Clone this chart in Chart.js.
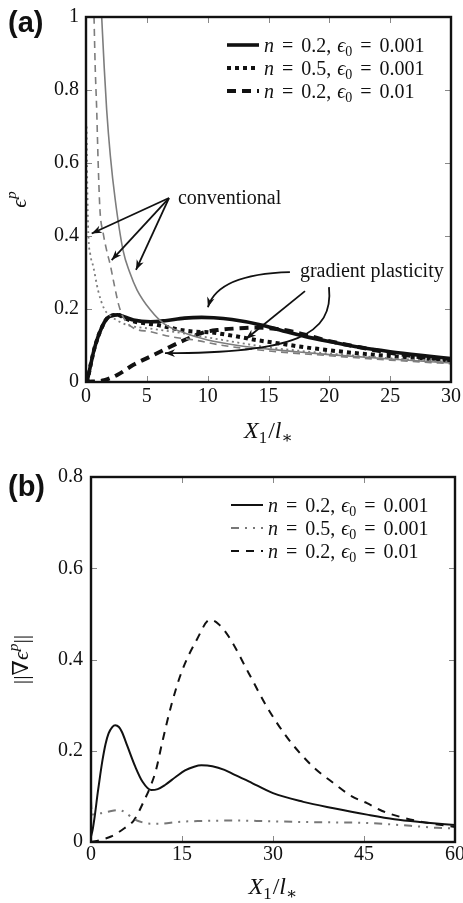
<!DOCTYPE html>
<html>
<head>
<meta charset="utf-8">
<script src="https://cdn.jsdelivr.net/npm/chart.js@4.4.0/dist/chart.umd.min.js"></script>
<style>
  html, body { margin: 0; padding: 0; background: #fff; }
  body { width: 463px; height: 903px; position: relative; overflow: hidden; }
  canvas { position: absolute; left: 0; }
  #chartA { top: 0; }
  #chartB { top: 450px; }
</style>
</head>
<body>
<canvas id="chartA" width="463" height="450"></canvas>
<canvas id="chartB" width="463" height="453"></canvas>
<script>
// ---- panel (a): plastic strain e^p vs X1/l* ----
// gradient plasticity (black)
const aGradSolidX = [0, 0.1, 0.4, 0.66, 1.0, 1.2, 1.5, 1.75, 2.1, 2.6, 3.2, 3.9, 5.3, 6.5, 8.1, 9.5, 10.5, 12, 14.3, 16, 18, 20, 22.5, 25, 27.5, 30]
const aGradSolidY = [0, 0.005, 0.05, 0.088, 0.125, 0.142, 0.163, 0.175, 0.182, 0.184, 0.178, 0.17, 0.165, 0.168, 0.175, 0.177, 0.176, 0.171, 0.157, 0.142, 0.125, 0.111, 0.095, 0.083, 0.073, 0.064]
const aGradDotX = [0, 0.1, 0.4, 0.66, 1.0, 1.2, 1.5, 1.75, 2.1, 2.6, 3.2, 3.9, 5, 5.9, 7, 8.1, 9, 10.2, 12, 14, 16, 18, 20, 22.5, 25, 27.5, 30]
const aGradDotY = [0, 0.005, 0.05, 0.088, 0.125, 0.142, 0.163, 0.175, 0.182, 0.184, 0.175, 0.166, 0.16, 0.156, 0.148, 0.141, 0.138, 0.136, 0.127, 0.115, 0.105, 0.095, 0.087, 0.078, 0.071, 0.065, 0.059]
const aGradDashX = [0, 1.5, 2.6, 3.9, 5.3, 6.4, 8.1, 9.7, 11, 12.5, 14, 15.5, 17, 18.5, 20, 22.5, 25, 27.5, 30]
const aGradDashY = [0, 0.005, 0.02, 0.047, 0.07, 0.088, 0.115, 0.136, 0.143, 0.147, 0.149, 0.146, 0.138, 0.125, 0.112, 0.095, 0.08, 0.068, 0.058]
// conventional (grey)
const aConvSolidX = [1.29, 1.5, 1.7, 2.0, 2.4, 3.05, 3.6, 4.2, 5.3, 6.4, 8.1, 10, 12.5, 15, 17.5, 20, 25, 30]
const aConvSolidY = [1.0, 0.86, 0.745, 0.62, 0.5, 0.36, 0.3, 0.252, 0.197, 0.16, 0.134, 0.115, 0.1, 0.09, 0.082, 0.075, 0.063, 0.052]
const aConvDotX = [0.05, 0.1, 0.19, 0.35, 0.6, 1.0, 1.5, 2.0, 2.6, 3.4, 5.3, 7.5, 10, 12.5, 15, 20, 25, 30]
const aConvDotY = [0.7, 0.55, 0.408, 0.35, 0.316, 0.25, 0.2, 0.182, 0.168, 0.156, 0.146, 0.136, 0.122, 0.108, 0.095, 0.078, 0.065, 0.055]
const aConvDashX = [0.66, 0.75, 0.88, 1.0, 1.15, 1.4, 1.7, 2.0, 2.3, 2.7, 3.1, 3.9, 5.3, 7.0, 8.9, 11.1, 15, 20, 25, 30]
const aConvDashY = [1.0, 0.87, 0.745, 0.6, 0.47, 0.41, 0.36, 0.32, 0.27, 0.21, 0.175, 0.148, 0.138, 0.124, 0.115, 0.101, 0.085, 0.072, 0.06, 0.05]

// ---- panel (b): gradient norm vs X1/l* ----
const bSolidX = [0, 0.26, 0.6, 1.1, 1.5, 1.9, 2.4, 2.9, 3.5, 4.0, 4.6, 5.1, 6.0, 7.3, 8.5, 9.9, 11, 12.2, 14, 15.5, 17, 18.2, 20, 22, 23.7, 26, 30, 35, 40, 45.5, 50, 55, 60]
const bSolidY = [0.012, 0.026, 0.055, 0.107, 0.145, 0.18, 0.215, 0.238, 0.252, 0.256, 0.252, 0.241, 0.21, 0.165, 0.132, 0.114, 0.116, 0.125, 0.143, 0.157, 0.165, 0.168, 0.166, 0.158, 0.147, 0.133, 0.107, 0.088, 0.074, 0.06, 0.05, 0.043, 0.037]
const bDashDotX = [0, 0.15, 1.6, 3, 4.5, 5.5, 7.1, 8.5, 9.9, 11.5, 14.3, 18, 23, 28, 34, 40, 45, 50, 54, 57, 60]
const bDashDotY = [0.09, 0.06, 0.063, 0.067, 0.07, 0.066, 0.05, 0.043, 0.04, 0.04, 0.044, 0.046, 0.047, 0.046, 0.044, 0.043, 0.042, 0.038, 0.034, 0.031, 0.03]
const bDashX = [0, 1.4, 3.3, 5.5, 7.1, 8.8, 9.9, 10.7, 11.7, 13.3, 15, 17.5, 19.6, 21, 22.9, 26, 29, 32, 34.5, 37, 40, 43, 45.5, 48, 51, 55, 60]
const bDashY = [0, 0.004, 0.012, 0.03, 0.048, 0.092, 0.125, 0.157, 0.216, 0.303, 0.375, 0.445, 0.487, 0.478, 0.446, 0.37, 0.296, 0.235, 0.194, 0.16, 0.129, 0.1, 0.085, 0.068, 0.055, 0.043, 0.033]

// ticks
const aXTicks = [0, 5, 10, 15, 20, 25, 30]
const aYTicks = [0, 0.2, 0.4, 0.6, 0.8, 1]
const bXTicks = [0, 15, 30, 45, 60]
const bYTicks = [0, 0.2, 0.4, 0.6, 0.8]

// legend entries
const nValues = ['0.2', '0.5', '0.2']
const eps0Values = ['0.001', '0.001', '0.01']

// annotation anchors (data units of panel a)
const convText = { label: 'conventional', x: 7.56, y: 0.501 }
const convArrowStart = [6.82, 0.504]
const convArrowTips = [[0.47, 0.407], [2.11, 0.334], [4.11, 0.307]]
const gradText = { label: 'gradient plasticity', x: 17.58, y: 0.301 }
const gradArrows = [
  [[16.76, 0.301], [10.85, 0.296], [10.02, 0.205]],
  [[18.0, 0.249], [13.15, 0.118]],
  [[19.97, 0.26], [20.38, 0.129], [17.17, 0.079], [6.49, 0.079]]
]

const SERIF = "'Liberation Serif', 'DejaVu Serif', serif"
const SANS = "'Liberation Sans', Arial, sans-serif"
const BLACK = '#111'
const GREY = '#7d7d7d'

function pts(xs, ys) {
  return xs.map((x, i) => ({ x: x, y: ys[i] }))
}

function legendSegs(i) {
  return [
    { t: 'n', it: true }, { gap: 3 }, { t: ' = ' }, { gap: 3 }, { t: nValues[i] + ',' }, { gap: 6 },
    { t: 'ϵ', it: true }, { t: '0', sub: true }, { gap: 3 }, { t: ' = ' }, { gap: 3 }, { t: eps0Values[i] }
  ]
}

function segFont(s, size) {
  let sz = (s.sub || s.sup) ? size * 0.7 : size
  return (s.it ? 'italic ' : '') + sz + 'px ' + SERIF
}

function drawRich(ctx, segs, x, y, size, align) {
  let total = 0
  let widths = segs.map(s => {
    if (s.gap) { total += s.gap; return s.gap }
    ctx.font = segFont(s, size)
    let w = ctx.measureText(s.t).width
    total += w
    return w
  })
  let cx = align === 'center' ? x - total / 2 : x
  ctx.textBaseline = 'middle'
  ctx.textAlign = 'left'
  segs.forEach((s, i) => {
    if (!s.gap) {
      ctx.font = segFont(s, size)
      let dy = s.sub ? size * 0.28 : (s.sup ? -size * 0.36 : 0)
      ctx.fillText(s.t, cx, y + dy)
    }
    cx += widths[i]
  })
}

function arrowHead(ctx, from, to) {
  let ang = Math.atan2(to[1] - from[1], to[0] - from[0])
  let len = 10, half = 3.8
  ctx.beginPath()
  ctx.moveTo(to[0], to[1])
  ctx.lineTo(to[0] - len * Math.cos(ang) + half * Math.sin(ang), to[1] - len * Math.sin(ang) - half * Math.cos(ang))
  ctx.lineTo(to[0] - len * 0.7 * Math.cos(ang), to[1] - len * 0.7 * Math.sin(ang))
  ctx.lineTo(to[0] - len * Math.cos(ang) - half * Math.sin(ang), to[1] - len * Math.sin(ang) + half * Math.cos(ang))
  ctx.closePath()
  ctx.fill()
}

// frame + inward ticks, legend, titles
function decorPlugin(opts) {
  return {
    id: 'decor',
    afterDatasetsDraw(chart) {
      const { ctx, chartArea: a, scales: { x, y } } = chart
      ctx.save()

      // inner tick marks on all four sides
      ctx.strokeStyle = '#888'
      ctx.lineWidth = 1
      ctx.beginPath()
      x.ticks.forEach(t => {
        let px = Math.round(x.getPixelForValue(t.value)) + 0.5
        if (px < a.left + 3 || px > a.right - 3) return
        ctx.moveTo(px, a.bottom); ctx.lineTo(px, a.bottom - 6)
        ctx.moveTo(px, a.top); ctx.lineTo(px, a.top + 6)
      })
      y.ticks.forEach(t => {
        let py = Math.round(y.getPixelForValue(t.value)) + 0.5
        if (py < a.top + 3 || py > a.bottom - 3) return
        ctx.moveTo(a.left, py); ctx.lineTo(a.left + 6, py)
        ctx.moveTo(a.right, py); ctx.lineTo(a.right - 6, py)
      })
      ctx.stroke()

      ctx.strokeStyle = BLACK
      ctx.lineWidth = 2.4
      ctx.strokeRect(a.left, a.top, a.right - a.left, a.bottom - a.top)

      // legend
      ctx.fillStyle = BLACK
      chart.data.datasets.filter(d => d.legendRow !== undefined).forEach(d => {
        let ry = a.top + 28 + d.legendRow * 23
        ctx.save()
        ctx.strokeStyle = d.borderColor
        ctx.lineWidth = d.borderWidth
        ctx.setLineDash(d.borderDash || [])
        ctx.beginPath()
        ctx.moveTo(a.right - 224, ry)
        ctx.lineTo(a.right - 192, ry)
        ctx.stroke()
        ctx.restore()
        drawRich(ctx, legendSegs(d.legendRow), a.right - 187, ry + 2, 20, 'left')
      })

      // axis titles
      drawRich(ctx, opts.xTitle, (a.left + a.right) / 2, a.bottom + opts.xTitleGap, 24, 'center')
      ctx.save()
      ctx.translate(opts.yTitleX, (a.top + a.bottom) / 2)
      ctx.rotate(-Math.PI / 2)
      drawRich(ctx, opts.yTitle, 0, 0, 22, 'center')
      ctx.restore()

      // panel letter
      ctx.font = 'bold 29px ' + SANS
      ctx.textAlign = 'left'
      ctx.textBaseline = 'middle'
      ctx.fillText(opts.panel, 8, opts.panelY)

      if (opts.annotate) opts.annotate(chart)
      ctx.restore()
    }
  }
}

function annotateA(chart) {
  const { ctx, scales: { x, y } } = chart
  const P = p => [x.getPixelForValue(p[0]), y.getPixelForValue(p[1])]
  ctx.save()
  ctx.fillStyle = BLACK
  ctx.strokeStyle = BLACK
  ctx.lineWidth = 1.8
  ctx.font = '20px ' + SERIF
  ctx.textBaseline = 'middle'
  ctx.textAlign = 'left'
  ctx.fillText(convText.label, x.getPixelForValue(convText.x), y.getPixelForValue(convText.y))
  ctx.fillText(gradText.label, x.getPixelForValue(gradText.x), y.getPixelForValue(gradText.y))

  let s = P(convArrowStart)
  convArrowTips.forEach(tp => {
    let t = P(tp)
    ctx.beginPath(); ctx.moveTo(s[0], s[1]); ctx.lineTo(t[0], t[1]); ctx.stroke()
    arrowHead(ctx, s, t)
  })

  gradArrows.forEach(arr => {
    let p = arr.map(P)
    ctx.beginPath()
    ctx.moveTo(p[0][0], p[0][1])
    if (p.length === 2) ctx.lineTo(p[1][0], p[1][1])
    if (p.length === 3) ctx.quadraticCurveTo(p[1][0], p[1][1], p[2][0], p[2][1])
    if (p.length === 4) ctx.bezierCurveTo(p[1][0], p[1][1], p[2][0], p[2][1], p[3][0], p[3][1])
    ctx.stroke()
    arrowHead(ctx, p[p.length - 2], p[p.length - 1])
  })
  ctx.restore()
}

function line(data, color, width, dash, extra) {
  return Object.assign({
    data: data,
    borderColor: color,
    borderWidth: width,
    borderDash: dash,
    borderCapStyle: 'butt',
    pointRadius: 0,
    fill: false,
    cubicInterpolationMode: 'monotone'
  }, extra || {})
}

function axisOpts(min, max, ticks, width, height, padX, padY) {
  const font = { family: SERIF, size: 20 }
  return {
    x: {
      type: 'linear', min: min[0], max: max[0],
      afterBuildTicks: s => { s.ticks = ticks[0].map(v => ({ value: v })) },
      ticks: { font: font, color: BLACK, padding: padX, maxRotation: 0, autoSkip: false },
      grid: { display: false, drawTicks: false },
      border: { display: false },
      afterFit: s => { s.height = height; s.paddingLeft = 0; s.paddingRight = 0 }
    },
    y: {
      type: 'linear', min: min[1], max: max[1],
      afterBuildTicks: s => { s.ticks = ticks[1].map(v => ({ value: v })) },
      ticks: { font: font, color: BLACK, padding: padY, autoSkip: false, callback: v => String(Number(v.toFixed(1))) },
      grid: { display: false, drawTicks: false },
      border: { display: false },
      afterFit: s => { s.width = width; s.paddingTop = 0; s.paddingBottom = 0 }
    }
  }
}

const xTitle = [{ t: 'X', it: true }, { t: '1', sub: true }, { gap: 1 }, { t: '/' }, { t: 'l', it: true }, { t: '∗', sub: true }]

new Chart(document.getElementById('chartA'), {
  type: 'line',
  data: {
    datasets: [
      line(pts(aConvSolidX, aConvSolidY), GREY, 1.6, []),
      line(pts(aConvDashX, aConvDashY), GREY, 1.6, [7, 5]),
      line(pts(aConvDotX, aConvDotY), GREY, 1.8, [2, 3.5]),
      line(pts(aGradDashX, aGradDashY), BLACK, 4, [9, 6], { legendRow: 2 }),
      line(pts(aGradDotX, aGradDotY), BLACK, 4, [4, 4], { legendRow: 1 }),
      line(pts(aGradSolidX, aGradSolidY), BLACK, 3.6, [], { legendRow: 0 })
    ]
  },
  options: {
    responsive: false,
    animation: false,
    layout: { padding: { top: 17, right: 12, left: 0, bottom: 0 } },
    plugins: { legend: { display: false }, tooltip: { enabled: false } },
    scales: axisOpts([0, 0], [30, 1], [aXTicks, aYTicks], 86, 68, 3, 7)
  },
  plugins: [decorPlugin({
    xTitle: xTitle, xTitleGap: 50,
    yTitle: [{ t: 'ϵ', it: true }, { t: 'p', it: true, sup: true }], yTitleX: 20,
    panel: '(a)', panelY: 24, annotate: annotateA
  })]
})

new Chart(document.getElementById('chartB'), {
  type: 'line',
  data: {
    datasets: [
      line(pts(bDashDotX, bDashDotY), '#777', 2, [8, 6, 2, 6, 2, 6], { legendRow: 1 }),
      line(pts(bDashX, bDashY), BLACK, 2, [8, 7], { legendRow: 2 }),
      line(pts(bSolidX, bSolidY), BLACK, 2, [], { legendRow: 0 })
    ]
  },
  options: {
    responsive: false,
    animation: false,
    layout: { padding: { top: 27, right: 8, left: 0, bottom: 0 } },
    plugins: { legend: { display: false }, tooltip: { enabled: false } },
    scales: axisOpts([0, 0], [60, 0.8], [bXTicks, bYTicks], 91, 61, 1, 8)
  },
  plugins: [decorPlugin({
    xTitle: xTitle, xTitleGap: 46,
    yTitle: [{ t: '||∇' }, { t: 'ϵ', it: true }, { t: 'p', it: true, sup: true }, { t: '||' }], yTitleX: 22,
    panel: '(b)', panelY: 38
  })]
})
</script>
</body>
</html>
